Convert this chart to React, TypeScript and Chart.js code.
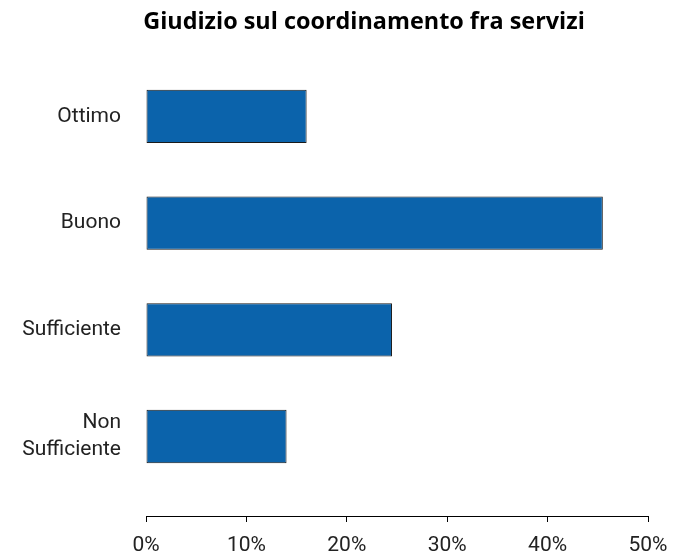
import React, { useEffect, useRef } from "react";
import { Chart, registerables } from "chart.js";

Chart.register(...registerables);

const title = "Giudizio sul coordinamento fra servizi";
const categories: (string | string[])[] = ["Ottimo", "Buono", "Sufficiente", ["Non", "Sufficiente"]];
const values = [16, 45.5, 24.5, 14];
const xTicks = [0, 10, 20, 30, 40, 50];

const FONT = "Roboto, 'DejaVu Sans', sans-serif";
const TITLE_FONT = "'Open Sans', Roboto, sans-serif";

export default function App() {
  const ref = useRef<HTMLCanvasElement | null>(null);
  useEffect(() => {
    if (!ref.current) return;
    const chart = new Chart(ref.current, {
      type: "bar",
      data: {
        datasets: [
          {
            data: values.map((v, i) => ({ x: v, y: i })),
            backgroundColor: "#0b63ab",
            borderColor: "#1a1a1a",
            borderWidth: 1,
            borderSkipped: false,
            barPercentage: 0.5,
            categoryPercentage: 1,
          },
        ],
      },
      options: {
        indexAxis: "y",
        animation: false,
        responsive: true,
        maintainAspectRatio: false,
        layout: { padding: { left: 72, right: 20, top: 0, bottom: 0 } },
        plugins: {
          legend: { display: false },
          tooltip: { enabled: false },
          title: {
            display: true,
            text: title,
            color: "#000",
            font: { family: TITLE_FONT, size: 23.4, weight: "bold" },
            padding: { top: 0, bottom: 27 },
          },
        },
        scales: {
          x: {
            type: "linear",
            min: xTicks[0],
            max: xTicks[xTicks.length - 1],
            offset: false,
            afterBuildTicks: (s: any) => {
              s.ticks = xTicks.map((v) => ({ value: v }));
            },
            afterFit: (s: any) => {
              s.height = 39;
              s.paddingRight = 0;
              s.paddingLeft = 0;
            },
            grid: { display: true, drawOnChartArea: false, offset: false, tickLength: 6, color: "#000", lineWidth: 1 },
            border: { display: true, color: "#000", width: 1 },
            ticks: {
              color: "#222",
              font: { family: FONT, size: 21 },
              padding: 11,
              maxRotation: 0,
              callback: (v: any) => v + "%",
            },
          },
          y: {
            type: "linear",
            reverse: true,
            offset: false,
            min: -0.5,
            max: 3.745,
            afterBuildTicks: (s: any) => {
              s.ticks = categories.map((_, i) => ({ value: i }));
            },
            afterFit: (s: any) => {
              s.width = 66;
              // let the category labels extend into the left padding
              s._computeLabelArea = () => undefined;
            },
            grid: { display: false, drawTicks: false, offset: false },
            border: { display: false },
            ticks: {
              color: "#222",
              font: { family: FONT, size: 21, lineHeight: 1.3 },
              padding: 25,
              callback: (v: any) => categories[v as number] ?? "",
            },
          },
        },
      },
    } as any);
    return () => chart.destroy();
  }, []);
  return (
    <div style={{ width: 660, height: 547 }}>
      <canvas ref={ref} />
    </div>
  );
}
